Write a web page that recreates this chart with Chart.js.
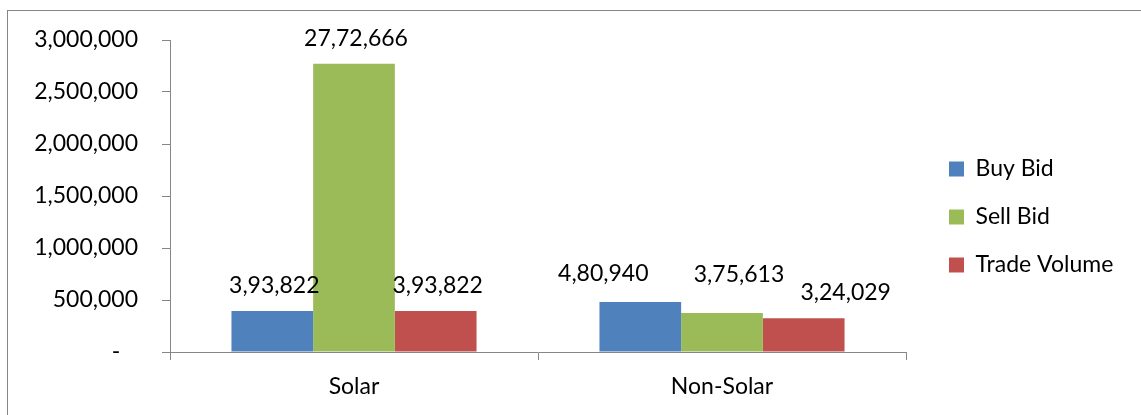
<!DOCTYPE html>
<html>
<head>
<meta charset="utf-8">
<script src="https://cdn.jsdelivr.net/npm/chart.js@4.4.0/dist/chart.umd.min.js"></script>
<style>
    body { margin: 0; background: #fff; }
    #wrap { position: relative; width: 1141px; height: 415px; overflow: hidden; }
    #frame { position: absolute; left: 7px; top: 10px; width: 1300px; height: 600px; border: 1px solid #868686; }
    #chart { position: absolute; left: 0; top: 0; }
</style>
</head>
<body>
<div id="wrap">
    <div id="frame"></div>
    <canvas id="chart" width="1141" height="415"></canvas>
</div>
<script>
// data
var categories = ['Solar', 'Non-Solar'];
var buyBid = [393822, 480940];
var sellBid = [2772666, 375613];
var tradeVolume = [393822, 324029];
var seriesNames = ['Buy Bid', 'Sell Bid', 'Trade Volume'];
var yMax = 3000000;
var yStep = 500000;

var FONT = { family: 'Lato', size: 23 };

// hand-moved value labels (dx, dy in px), per series then per category
var labelNudge = [
    [[2, 0], [-37, -3]],
    [[2, 0], [17, -13]],
    [[2, 0], [42, 0]]
];

// 3,000,000 style
function usFormat(v) {
    return String(v).replace(/\B(?=(\d{3})+(?!\d))/g, ',');
}

// 27,72,666 style (Indian grouping)
function inFormat(v) {
    let s = String(v);
    if (s.length <= 3) return s;
    let last = s.slice(-3);
    let rest = s.slice(0, -3).replace(/\B(?=(\d{2})+(?!\d))/g, ',');
    return rest + ',' + last;
}

// values above every bar
var barLabels = {
    id: 'barLabels',
    afterDatasetsDraw(chart) {
        let ctx = chart.ctx;
        ctx.save();
        ctx.font = FONT.size + 'px ' + FONT.family;
        ctx.fillStyle = '#000';
        ctx.textAlign = 'center';
        ctx.textBaseline = 'alphabetic';
        chart.data.datasets.forEach((ds, i) => {
            chart.getDatasetMeta(i).data.forEach((bar, j) => {
                let n = labelNudge[i][j];
                ctx.fillText(inFormat(ds.data[j]), bar.x + n[0], bar.y - 18 + n[1]);
            });
        });
        ctx.restore();
    }
};

// move the legend a bit right of the plot and up
var legendShift = {
    id: 'legendShift',
    afterLayout(chart) {
        let lg = chart.legend;
        lg.left = chart.chartArea.right + 18;
        lg.top -= 4;
        lg.bottom -= 4;
    }
};

function start() {
    Chart.defaults.color = '#000';
    Chart.defaults.font.family = FONT.family;
    Chart.defaults.font.size = FONT.size;

    var Ctx = document.getElementById('chart');
    var chart1 = new Chart(Ctx, {
        type: 'bar',
        data: {
            labels: categories,
            datasets: [{
                label: seriesNames[0],
                data: buyBid,
                backgroundColor: '#4F81BD'
            }, {
                label: seriesNames[1],
                data: sellBid,
                backgroundColor: '#9BBB59'
            }, {
                label: seriesNames[2],
                data: tradeVolume,
                backgroundColor: '#C0504D'
            }]
        },
        options: {
            responsive: false,
            animation: false,
            categoryPercentage: 0.666,
            barPercentage: 1.0,
            layout: {
                padding: { left: 0, top: 40, right: 0, bottom: 13 }
            },
            plugins: {
                tooltip: { enabled: false },
                legend: {
                    position: 'right',
                    labels: {
                        boxWidth: 15,
                        boxHeight: 15,
                        padding: 25,
                        color: '#000',
                        font: FONT
                    }
                }
            },
            scales: {
                x: {
                    afterFit: (scale) => { scale.height = 50; },
                    grid: {
                        drawOnChartArea: false,
                        tickLength: 8,
                        color: '#868686'
                    },
                    border: { color: '#868686', width: 1 },
                    ticks: { padding: 13, font: FONT, color: '#000' }
                },
                y: {
                    min: 0,
                    max: yMax,
                    afterFit: (scale) => { scale.width = 170; },
                    grid: {
                        drawOnChartArea: false,
                        tickLength: 8,
                        color: '#868686'
                    },
                    border: { color: '#868686', width: 1 },
                    ticks: {
                        stepSize: yStep,
                        padding: 24,
                        font: FONT,
                        color: '#000',
                        callback: (v) => v === 0 ? '-   ' : usFormat(v)
                    }
                }
            }
        },
        plugins: [barLabels, legendShift]
    });

    // fixed legend column so the plot ends where the reference does
    let fitLegend = chart1.legend.fit;
    chart1.legend.fit = function () {
        fitLegend.call(this);
        this.width = 1141 - 906;
    };
    chart1.update();
}

start();
</script>
</body>
</html>
